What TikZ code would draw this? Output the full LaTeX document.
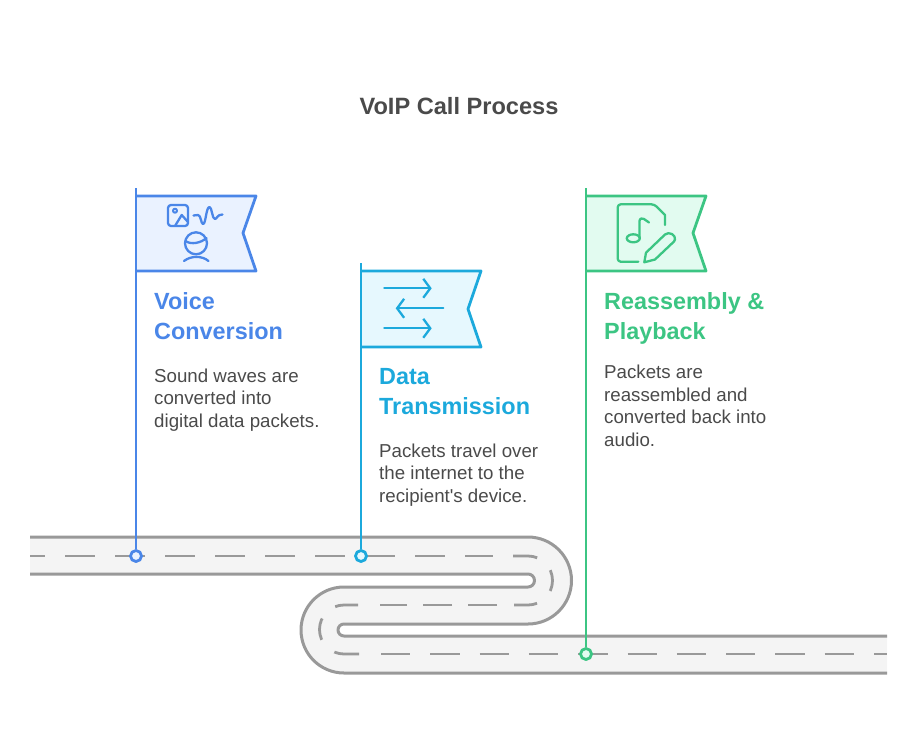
\documentclass[tikz,border=0pt]{standalone}
\usepackage{fontspec}
\setmainfont{Liberation Sans}
\usetikzlibrary{positioning,arrows.meta}
\definecolor{voiceline}{HTML}{4A86E8}
\definecolor{voicefill}{HTML}{EAF2FF}
\definecolor{dataline}{HTML}{1CA9DC}
\definecolor{datafill}{HTML}{E6F8FE}
\definecolor{playline}{HTML}{3CC583}
\definecolor{playfill}{HTML}{E2FBF0}
\definecolor{roadline}{HTML}{999999}
\definecolor{roadfill}{HTML}{F4F4F4}
\definecolor{bodytext}{HTML}{4A4A4A}

\begin{document}
\begin{tikzpicture}[x=1pt,y=-1pt,line join=round,
	heading/.style={font=\bfseries\fontsize{23.4}{30}\selectfont,inner sep=0,align=left,anchor=north west},
	bodycopy/.style={font=\fontsize{18.7}{22.5}\selectfont,text=bodytext,inner sep=0,align=left},
	roadedge/.style={draw=roadline,line width=3pt},
	roaddash/.style={draw=roadline,line width=2.8pt},
	flag/.style={line width=2.8pt},
	pole/.style={line width=2.8pt},
	roadmark/.style={circle,draw,line width=2.8pt,minimum size=11pt,inner sep=0},
	icon/.style={line width=2.3pt,line cap=round}]
	\useasboundingbox (0,0) rectangle (918,753);

	\node (title) at (459,106) [font=\bfseries\fontsize{23.6}{28}\selectfont,text=bodytext] {VoIP Call Process};

	% road
	\fill[roadfill] (30,537) -- (528,537) arc[start angle=-90,end angle=90,radius=43.5] -- (344,624)
		arc[start angle=-90,end angle=-270,radius=6] -- (887,636) -- (887,673) -- (344,673)
		arc[start angle=90,end angle=270,radius=43] -- (528,587)
		arc[start angle=90,end angle=-90,radius=6.5] -- (30,574) -- cycle;
	\draw[roadedge] (30,537) -- (528,537) arc[start angle=-90,end angle=90,radius=43.5] -- (344,624)
		arc[start angle=-90,end angle=-270,radius=6] -- (887,636);
	\draw[roadedge] (30,574) -- (528,574) arc[start angle=-90,end angle=90,radius=6.5] -- (344,587)
		arc[start angle=-90,end angle=-270,radius=43] -- (887,673);
	\draw[roaddash,dash pattern=on 30pt off 20pt,dash phase=15pt] (30,556) -- (493,556);
	\draw[roaddash,dash pattern=on 24.4pt off 18.4pt on 21.4pt off 18.4pt on 30pt off 30pt] (513,556) -- (528,556)
		arc[start angle=-90,end angle=90,radius=24.5] -- (514,605);
	\draw[roaddash,dash pattern=on 29pt off 16pt] (497,605) -- (380,605);
	\draw[roaddash,dash pattern=on 23pt off 18pt on 22pt off 18pt on 25pt off 30pt] (358,605) -- (344,605)
		arc[start angle=-90,end angle=-270,radius=24.5] -- (360,654);
	\draw[roaddash,dash pattern=on 29.3pt off 20pt] (381,654) -- (887,654);

	% flags
	\draw[flag,draw=voiceline,fill=voicefill] (136,196) -- (256,196) -- (243,233) -- (256,271) -- (136,271);
	\draw[flag,draw=dataline,fill=datafill] (361,271) -- (481,271) -- (468,309) -- (481,347) -- (361,347);
	\draw[flag,draw=playline,fill=playfill] (586,196) -- (706,196) -- (693,233) -- (706,271) -- (586,271);

	\coordinate (voicetop) at (136,188);
	\coordinate (datatop) at (361,263);
	\coordinate (playtop) at (586,188);
	\node (voicemark) at (136,556) [roadmark,draw=voiceline,fill=voicefill] {};
	\node (datamark) at (361,556) [roadmark,draw=dataline,fill=datafill] {};
	\node (playmark) at (586,654) [roadmark,draw=playline,fill=playfill] {};
	\draw[pole,voiceline] (voicetop) -- (voicemark);
	\draw[pole,dataline] (datatop) -- (datamark);
	\draw[pole,playline] (playtop) -- (playmark);

	% icons
	\draw[icon,voiceline,rounded corners=3pt] (168,205) rectangle (188,226);
	\draw[icon,voiceline,line width=2pt] (175,210.7) circle (2);
	\draw[icon,voiceline] (175,226) -- (181.7,215) -- (188,222);
	\draw[icon,voiceline] (193.5,215.5) -- (198,215) .. controls (201,215) and (201,224) .. (203,224)
		.. controls (206,224) and (206,207) .. (209.5,207) .. controls (212,207) and (212,219) .. (215,219)
		.. controls (217,219) and (217,214.5) .. (222.5,214.5);
	\draw[icon,voiceline] (196,243.3) circle (11);
	\draw[icon,voiceline] (185.5,241) .. controls (191,245) and (201,243) .. (206.5,238);
	\draw[icon,voiceline] (184,261) .. controls (191,255.5) and (202,255.5) .. (208.5,261);

	\draw[icon,dataline,-{Straight Barb[length=7pt,width=19pt]}] (384.3,288.3) -- (431.7,288.3);
	\draw[icon,dataline,-{Straight Barb[length=7pt,width=19pt]}] (443.3,308.3) -- (395.7,308.3);
	\draw[icon,dataline,-{Straight Barb[length=7pt,width=19pt]}] (384.3,328.3) -- (431.7,328.3);

	\draw[icon,playline,rounded corners=3pt] (638.3,261.7) -- (617.7,261.7) -- (617.7,204.3) -- (654.3,204.3) [sharp corners] -- (665,215) -- (665,225);
	\draw[icon,playline] (633.3,238.3) ellipse (6.5 and 4);
	\draw[icon,playline] (639.5,238) -- (639.5,221) .. controls (640,218) and (642,218) .. (644,219) -- (649,222.5);
	\draw[icon,playline] (644.3,262.3) -- (646,252.7) -- (665,234.5) .. controls (669,231) and (676,235) .. (675,239.5) .. controls (675,240.5) and (674.5,241) .. (674,241.5) -- (655,259.5) -- cycle;

	% labels
	\node (voicehead) at (154,292) [heading,text=voiceline] {Voice\\Conversion};
	\node (voicetext) [bodycopy,below=29pt of voicehead.south west,anchor=north west] {Sound waves are\\converted into\\digital data packets.};
	\node (datahead) at (379,368) [heading,text=dataline] {Data\\Transmission};
	\node (datatext) [bodycopy,below=29pt of datahead.south west,anchor=north west] {Packets travel over\\the internet to the\\recipient\textquotesingle s device.};
	\node (playhead) at (604,292) [heading,text=playline] {Reassembly \&\\Playback};
	\node (playtext) [bodycopy,below=21pt of playhead.south west,anchor=north west] {Packets are\\reassembled and\\converted back into\\audio.};
\end{tikzpicture}
\end{document}
